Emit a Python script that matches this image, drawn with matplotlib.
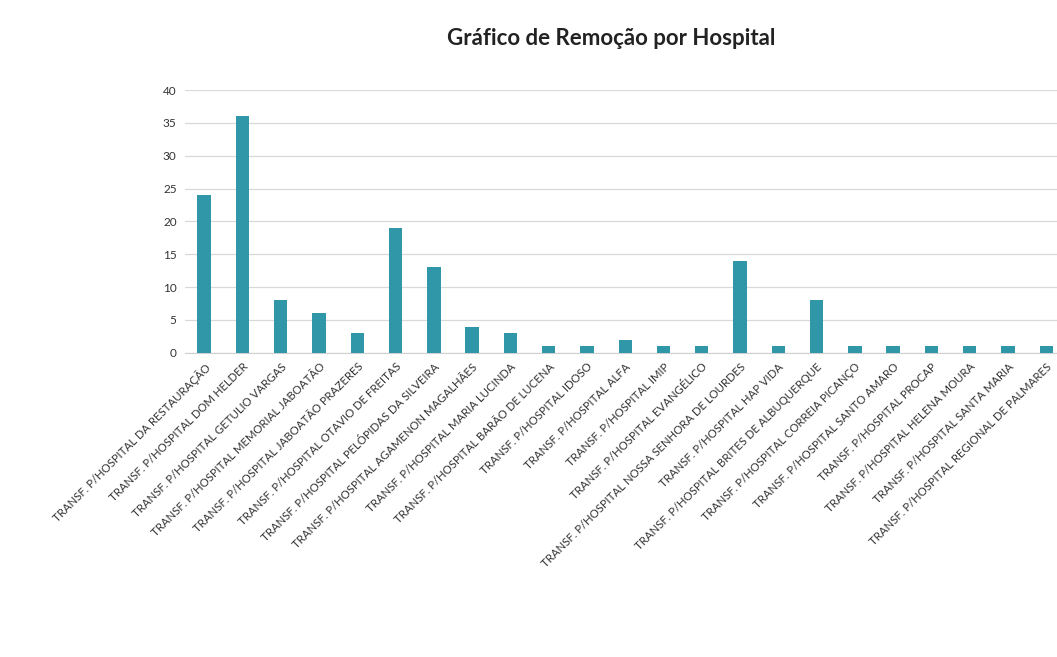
import matplotlib
matplotlib.use("Agg")
import matplotlib.pyplot as plt
from matplotlib import rc

rc('font', **{'family': 'sans-serif', 'sans-serif': ['Lato', 'DejaVu Sans'], 'size': 8})

hospitals = ["DA RESTAURAÇÃO", "DOM HELDER", "GETULIO VARGAS", "MEMORIAL JABOATÃO",
             "JABOATÃO PRAZERES", "OTAVIO DE FREITAS", "PELÓPIDAS DA SILVEIRA",
             "AGAMENON MAGALHÃES", "MARIA LUCINDA", "BARÃO DE LUCENA", "IDOSO", "ALFA",
             "IMIP", "EVANGÉLICO", "NOSSA SENHORA DE LOURDES", "HAP VIDA",
             "BRITES DE ALBUQUERQUE", "CORREIA PICANÇO", "SANTO AMARO", "PROCAP",
             "HELENA MOURA", "SANTA MARIA", "REGIONAL DE PALMARES"]
labels = ["TRANSF. P/HOSPITAL " + h for h in hospitals]
remocoes = [24, 36, 8, 6, 3, 19, 13, 4, 3, 1, 1, 2, 1, 1, 14, 1, 8, 1, 1, 1, 1, 1, 1]
y_ticks = [0, 5, 10, 15, 20, 25, 30, 35, 40]

fig = plt.figure(figsize=(10.57, 6.57), dpi=100)
ax = fig.add_axes([0.175, 0.463, 0.833, 0.400])

x = list(range(len(labels)))
ax.bar(x, remocoes, width=0.35, color="#2f97a8", zorder=3)

ax.set_xlim(-0.5, len(labels) - 0.5)
ax.set_ylim(0, 40)
ax.set_yticks(y_ticks)
ax.yaxis.grid(True, color="#d9d9d9", linewidth=0.9, zorder=0)
ax.set_axisbelow(True)
for s in ["top", "right", "left"]:
    ax.spines[s].set_visible(False)
ax.spines["bottom"].set_color("#d0d0d0")
ax.tick_params(axis="y", length=0, pad=6, labelsize=8.5, labelcolor="#333333")
ax.tick_params(axis="x", length=0, pad=6)
ax.set_xticks(x)
ax.set_xticklabels(labels, rotation=45, ha="right", rotation_mode="anchor",
                   fontsize=8.2, color="#333333")

fig.text(0.578, 0.942, "Gráfico de Remoção por Hospital", ha="center", va="center",
         fontsize=16, fontweight="bold", color="#222222")

fig.savefig("out.png", dpi=100)
